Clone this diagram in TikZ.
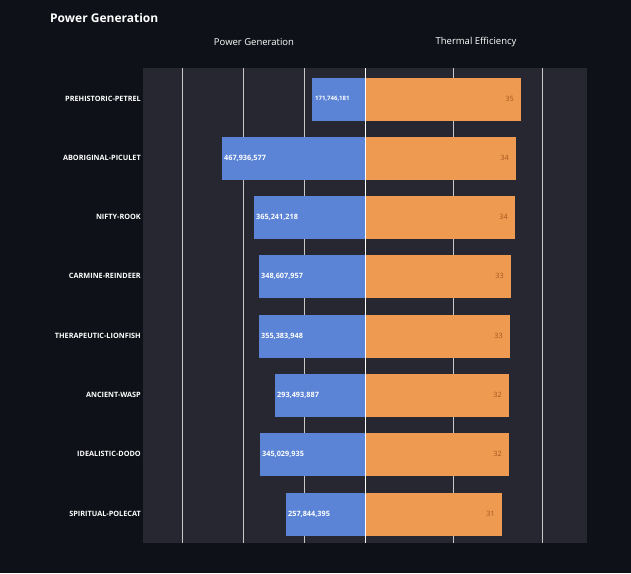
\documentclass[tikz,border=0pt]{standalone}
\usepackage{fontspec}
\setmainfont{Open Sans}
\definecolor{bg}{HTML}{0E1117}
\definecolor{plot}{HTML}{262730}
\definecolor{blu}{HTML}{5B84D6}
\definecolor{org}{HTML}{EE9A50}
\definecolor{orgtxt}{HTML}{A5561F}
\definecolor{grid}{HTML}{C8C8C8}
\begin{document}
\begin{tikzpicture}[x=1pt,y=-1pt,
  cat/.style={anchor=east,text=white,font=\fontsize{7.3}{8}\selectfont\bfseries,inner sep=0pt},
  bval/.style={anchor=west,text=white,font=\fontsize{7.3}{8}\selectfont\bfseries,inner sep=0pt},
  oval/.style={anchor=east,text=orgtxt,font=\fontsize{7.3}{8}\selectfont,inner sep=0pt},
  head/.style={text=white,font=\fontsize{9.5}{11}\selectfont}]
\fill[bg] (0,0) rectangle (631,573);
\useasboundingbox (0,0) rectangle (631,573);
\fill[plot] (143,68) rectangle (587,543);
\foreach \g in {182,243,304,453,542} \draw[grid,line width=0.8pt] (\g,68) -- (\g,543);
\node[text=white,font=\fontsize{12}{14}\selectfont\bfseries,anchor=west,inner sep=0pt] (title) at (50,18) {Power Generation};
\node[head] (h1) at (254,42) {Power Generation};
\node[head] (h2) at (476,42) {Thermal Efficiency};
\foreach \n/\y/\l/\r/\name/\pv/\tv in {
 a/99/312/521/PREHISTORIC-PETREL/{171,746,181}/35,
 b/158/222/516/ABORIGINAL-PICULET/{467,936,577}/34,
 c/217/254/515/NIFTY-ROOK/{365,241,218}/34,
 d/276/259/511/CARMINE-REINDEER/{348,607,957}/33,
 e/336/259/510/THERAPEUTIC-LIONFISH/{355,383,948}/33,
 f/395/275/509/ANCIENT-WASP/{293,493,887}/32,
 g/454/260/509/IDEALISTIC-DODO/{345,029,935}/32,
 h/514/286/502/SPIRITUAL-POLECAT/{257,844,395}/31}{
  \fill[blu] (\l,\y-21.5) rectangle (365,\y+21.5);
  \fill[org] (365,\y-21.5) rectangle (\r,\y+21.5);
  \node[cat] (c\n) at (141,\y) {\name};
  \ifnum\pdfstrcmp{\n}{a}=0
    \node[bval,font=\fontsize{6}{7}\selectfont\bfseries] (p\n) at (\l+3,\y) {\pv};
  \else
    \node[bval] (p\n) at (\l+2,\y) {\pv};
  \fi
  \node[oval] (t\n) at (\r-7,\y) {\tv};
}
\draw[white,line width=1pt] (365,68) -- (365,543);
\end{tikzpicture}
\end{document}
